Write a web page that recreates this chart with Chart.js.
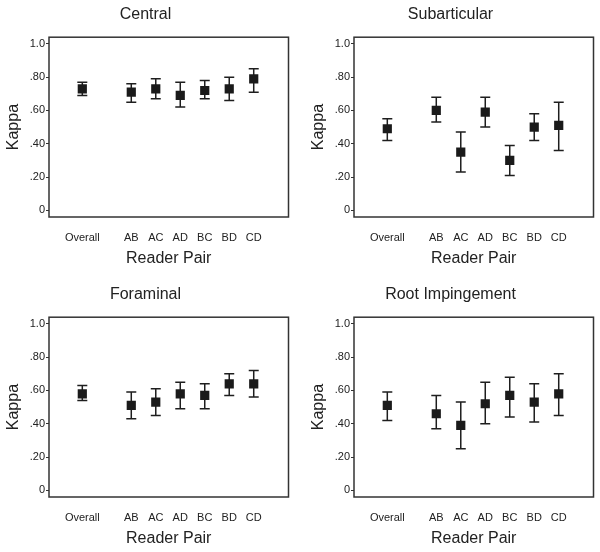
<!DOCTYPE html>
<html lang="en">

<head>
  <meta charset="UTF-8">
  <title>Kappa by Reader Pair</title>
  <script src="https://cdn.jsdelivr.net/npm/chart.js"></script>
  <style>
    body { margin: 0; background: #fff; }
    .panels { position: relative; width: 600px; height: 552px; }
    .panels canvas { position: absolute; }
  </style>
</head>

<body>
  <div class="panels">
    <canvas id="central" width="295" height="272" style="left:0;top:0"></canvas>
    <canvas id="subarticular" width="295" height="272" style="left:305px;top:0"></canvas>
    <canvas id="foraminal" width="295" height="272" style="left:0;top:280px"></canvas>
    <canvas id="root" width="295" height="272" style="left:305px;top:280px"></canvas>
  </div>

  <script>
    const readerPairs = ['Overall', 'AB', 'AC', 'AD', 'BC', 'BD', 'CD'];
    const yTickValues = [0, 0.2, 0.4, 0.6, 0.8, 1.0];
    const yTickLabels = ['0', '.20', '.40', '.60', '.80', '1.0'];

    // kappa and 95% CI
    const centralKappa = [0.73, 0.71, 0.73, 0.69, 0.72, 0.73, 0.79];
    const centralLow   = [0.69, 0.65, 0.67, 0.62, 0.67, 0.66, 0.71];
    const centralHigh  = [0.77, 0.76, 0.79, 0.77, 0.78, 0.80, 0.85];

    const subarticularKappa = [0.49, 0.60, 0.35, 0.59, 0.30, 0.50, 0.51];
    const subarticularLow   = [0.42, 0.53, 0.23, 0.50, 0.21, 0.42, 0.36];
    const subarticularHigh  = [0.55, 0.68, 0.47, 0.68, 0.39, 0.58, 0.65];

    const foraminalKappa = [0.58, 0.51, 0.53, 0.58, 0.57, 0.64, 0.64];
    const foraminalLow   = [0.54, 0.43, 0.45, 0.49, 0.49, 0.57, 0.56];
    const foraminalHigh  = [0.63, 0.59, 0.61, 0.65, 0.64, 0.70, 0.72];

    const rootKappa = [0.51, 0.46, 0.39, 0.52, 0.57, 0.53, 0.58];
    const rootLow   = [0.42, 0.37, 0.25, 0.40, 0.44, 0.41, 0.45];
    const rootHigh  = [0.59, 0.57, 0.53, 0.65, 0.68, 0.64, 0.70];

    const FONT = "'Liberation Sans', Arial, sans-serif";
    const INK = '#222';

    // Overall sits apart from the pairs: leave one empty slot after it
    const slotOf = i => (i === 0 ? 0 : i + 1);

    const errorBars = {
      id: 'errorBars',
      beforeDatasetsDraw(chart) {
        const { ctx, scales: { x, y } } = chart;
        ctx.save();
        ctx.strokeStyle = '#1e1e1e';
        ctx.lineWidth = 1.5;
        chart.data.datasets[0].data.forEach(p => {
          const px = x.getPixelForValue(p.x);
          const top = y.getPixelForValue(p.hi);
          const bot = y.getPixelForValue(p.lo);
          ctx.beginPath();
          ctx.moveTo(px, top); ctx.lineTo(px, bot);
          ctx.moveTo(px - 5, top); ctx.lineTo(px + 5, top);
          ctx.moveTo(px - 5, bot); ctx.lineTo(px + 5, bot);
          ctx.stroke();
        });
        ctx.restore();
      }
    };

    const frame = {
      id: 'frame',
      afterDraw(chart) {
        const { ctx, chartArea: a } = chart;
        ctx.save();
        ctx.strokeStyle = '#333';
        ctx.lineWidth = 1.5;
        ctx.strokeRect(a.left, a.top, a.right - a.left, a.bottom - a.top);
        ctx.restore();
      }
    };

    function makeChart(id, title, kappa, low, high) {
      const points = kappa.map((k, i) => ({ x: slotOf(i), y: k, lo: low[i], hi: high[i] }));
      const labelAt = {};
      readerPairs.forEach((name, i) => { labelAt[slotOf(i)] = name; });

      new Chart(document.getElementById(id), {
        type: 'scatter',
        data: {
          datasets: [{
            data: points,
            pointStyle: 'rect',
            pointRadius: 6.5,
            pointHoverRadius: 6.5,
            backgroundColor: '#1a1a1a',
            borderWidth: 0
          }]
        },
        options: {
          responsive: false,
          animation: false,
          layout: { padding: { left: 0, right: 4, top: 0, bottom: 0 } },
          plugins: {
            legend: { display: false },
            tooltip: { enabled: false },
            title: {
              display: true,
              text: title,
              color: INK,
              font: { family: FONT, size: 16, weight: 'normal' },
              padding: { top: 5, bottom: 13 }
            }
          },
          scales: {
            x: {
              type: 'linear',
              min: -1.36,
              max: 8.42,
              afterBuildTicks: s => { s.ticks = readerPairs.map((_, i) => ({ value: slotOf(i) })); },
              afterFit: s => { s.height = 55; },
              ticks: {
                color: INK,
                padding: 14,
                maxRotation: 0,
                autoSkip: false,
                font: { family: FONT, size: 11 },
                callback: v => labelAt[v] || ''
              },
              grid: { display: false, drawTicks: false },
              border: { display: false },
              title: {
                display: true,
                text: 'Reader Pair',
                color: INK,
                font: { family: FONT, size: 16 },
                padding: { top: 4, bottom: 4 }
              }
            },
            y: {
              min: -0.04,
              max: 1.04,
              afterBuildTicks: s => { s.ticks = yTickValues.map(v => ({ value: v })); },
              afterFit: s => { s.width = 49; },
              ticks: {
                color: INK,
                padding: 1,
                font: { family: FONT, size: 11 },
                callback: v => yTickLabels[yTickValues.indexOf(v)]
              },
              grid: { drawOnChartArea: false, drawTicks: true, tickLength: 3, color: '#333' },
              border: { display: false },
              title: {
                display: true,
                text: 'Kappa',
                color: INK,
                font: { family: FONT, size: 16 },
                padding: { top: 4, bottom: 4 }
              }
            }
          }
        },
        plugins: [errorBars, frame]
      });
    }

    makeChart('central', 'Central', centralKappa, centralLow, centralHigh);
    makeChart('subarticular', 'Subarticular', subarticularKappa, subarticularLow, subarticularHigh);
    makeChart('foraminal', 'Foraminal', foraminalKappa, foraminalLow, foraminalHigh);
    makeChart('root', 'Root Impingement', rootKappa, rootLow, rootHigh);
  </script>

</body>

</html>
